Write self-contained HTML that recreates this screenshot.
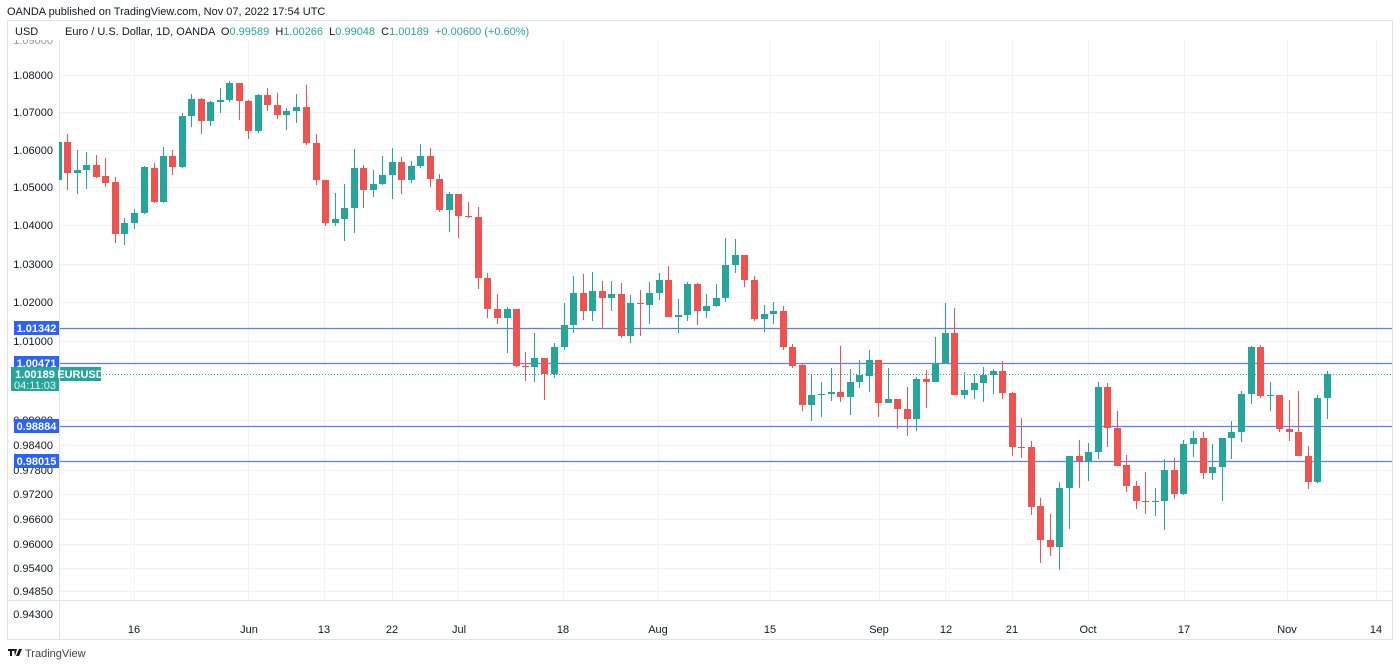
<!DOCTYPE html>
<html><head><meta charset="utf-8"><style>
html,body{margin:0;padding:0;background:#fff;width:1400px;height:667px;overflow:hidden}
svg{display:block}
text{font-family:"Liberation Sans",sans-serif;font-size:11px;white-space:pre}
</style></head><body>
<svg width="1400" height="667" viewBox="0 0 1400 667" xmlns="http://www.w3.org/2000/svg">
<text x="7" y="15" fill="#131722">OANDA published on TradingView.com, Nov 07, 2022 17:54 UTC</text>
<rect x="7.5" y="20.5" width="1385" height="619" fill="none" stroke="#e0e3eb"/>
<line x1="59.5" y1="20" x2="59.5" y2="640" stroke="#e0e3eb"/>
<line x1="7" y1="600.5" x2="1393" y2="600.5" stroke="#e0e3eb"/>
<g stroke="#f0f3fa" stroke-width="1">
<line x1="60" x2="1392" y1="75.5" y2="75.5"/><line x1="60" x2="1392" y1="112.5" y2="112.5"/><line x1="60" x2="1392" y1="150.5" y2="150.5"/><line x1="60" x2="1392" y1="187.5" y2="187.5"/><line x1="60" x2="1392" y1="225.5" y2="225.5"/><line x1="60" x2="1392" y1="264.5" y2="264.5"/><line x1="60" x2="1392" y1="302.5" y2="302.5"/><line x1="60" x2="1392" y1="341.5" y2="341.5"/><line x1="60" x2="1392" y1="420.5" y2="420.5"/><line x1="60" x2="1392" y1="445.5" y2="445.5"/><line x1="60" x2="1392" y1="470.5" y2="470.5"/><line x1="60" x2="1392" y1="494.5" y2="494.5"/><line x1="60" x2="1392" y1="519.5" y2="519.5"/><line x1="60" x2="1392" y1="544.5" y2="544.5"/><line x1="60" x2="1392" y1="568.5" y2="568.5"/><line x1="60" x2="1392" y1="591.5" y2="591.5"/>
<line y1="21" y2="600" x1="134.5" x2="134.5"/><line y1="21" y2="600" x1="248.5" x2="248.5"/><line y1="21" y2="600" x1="324.5" x2="324.5"/><line y1="21" y2="600" x1="392.5" x2="392.5"/><line y1="21" y2="600" x1="458.5" x2="458.5"/><line y1="21" y2="600" x1="563.5" x2="563.5"/><line y1="21" y2="600" x1="658.5" x2="658.5"/><line y1="21" y2="600" x1="770.5" x2="770.5"/><line y1="21" y2="600" x1="879.5" x2="879.5"/><line y1="21" y2="600" x1="945.5" x2="945.5"/><line y1="21" y2="600" x1="1012.5" x2="1012.5"/><line y1="21" y2="600" x1="1088.5" x2="1088.5"/><line y1="21" y2="600" x1="1184.5" x2="1184.5"/><line y1="21" y2="600" x1="1287.5" x2="1287.5"/><line y1="21" y2="600" x1="1376.5" x2="1376.5"/>
</g>
<g text-anchor="end" fill="#131722">
<text x="53" y="44" fill="#999">1.09000</text>
<text x="53" y="79">1.08000</text><text x="53" y="116">1.07000</text><text x="53" y="154">1.06000</text><text x="53" y="191">1.05000</text><text x="53" y="229">1.04000</text><text x="53" y="268">1.03000</text><text x="53" y="306">1.02000</text><text x="53" y="345">1.01000</text><text x="53" y="424">0.99000</text><text x="53" y="449">0.98400</text><text x="53" y="474">0.97800</text><text x="53" y="498">0.97200</text><text x="53" y="523">0.96600</text><text x="53" y="548">0.96000</text><text x="53" y="572">0.95400</text><text x="53" y="595">0.94850</text><text x="53" y="618">0.94300</text>
</g>
<g text-anchor="middle" fill="#131722">
<text x="134" y="633">16</text><text x="249" y="633">Jun</text><text x="324" y="633">13</text><text x="392" y="633">22</text><text x="459" y="633">Jul</text><text x="563" y="633">18</text><text x="658" y="633">Aug</text><text x="770" y="633">15</text><text x="879" y="633">Sep</text><text x="946" y="633">12</text><text x="1012" y="633">21</text><text x="1088" y="633">Oct</text><text x="1184" y="633">17</text><text x="1287" y="633">Nov</text><text x="1376" y="633">14</text>
</g>
<rect x="8" y="21" width="1384" height="19" fill="#fff"/>
<text x="15" y="35" fill="#131722">USD</text>
<text x="65" y="35" fill="#131722">Euro / U.S. Dollar, 1D, OANDA  O<tspan fill="#26a69a">0.99589</tspan>  H<tspan fill="#26a69a">1.00266</tspan>  L<tspan fill="#26a69a">0.99048</tspan>  C<tspan fill="#26a69a">1.00189</tspan>  <tspan fill="#26a69a">+0.00600 (+0.60%)</tspan></text>
<g stroke="#5b7cf8" stroke-width="1.3">
<line x1="60" x2="1392" y1="328.5" y2="328.5"/><line x1="60" x2="1392" y1="363.5" y2="363.5"/><line x1="60" x2="1392" y1="426.5" y2="426.5"/><line x1="60" x2="1392" y1="461.5" y2="461.5"/>
</g>
<line x1="100" x2="1392" y1="374.5" y2="374.5" stroke="#26a69a" stroke-dasharray="1,2"/>
<svg x="59" y="40" width="1334" height="560" viewBox="59 40 1334 560" overflow="hidden">
<g id="c"></g>
</svg>
<g>
<rect x="14" y="321" width="45" height="14" fill="#2962ff"/><text x="36.5" y="332" text-anchor="middle" fill="#ffffff" font-weight="bold">1.01342</text>
<rect x="14" y="356" width="45" height="14" fill="#2962ff"/><text x="36.5" y="367" text-anchor="middle" fill="#ffffff" font-weight="bold">1.00471</text>
<rect x="11" y="367" width="48" height="24" fill="#26a69a"/><text x="35" y="378" text-anchor="middle" fill="#ffffff" font-weight="bold">1.00189</text><text x="35" y="389" text-anchor="middle" fill="#e6f5f3">04:11:03</text>
<rect x="60" y="367" width="41" height="14" fill="#26a69a"/><text x="80.5" y="378" text-anchor="middle" fill="#ffffff" font-weight="bold">EURUSD</text>
<rect x="14" y="419" width="45" height="14" fill="#2962ff"/><text x="36.5" y="430" text-anchor="middle" fill="#ffffff" font-weight="bold">0.98884</text>
<rect x="14" y="454" width="45" height="14" fill="#2962ff"/><text x="36.5" y="465" text-anchor="middle" fill="#ffffff" font-weight="bold">0.98015</text>
</g>
<g fill="#131722"><rect x="8" y="649" width="6" height="2"/><rect x="10" y="649" width="2" height="7"/><polygon points="14,649 17,649 15,656"/><polygon points="16,656 19,649 22,649 19,656"/></g>
<text x="25" y="657" font-size="12" fill="#444">TradingView</text>
</svg>
<script>
var d=`58 142 180 137 182 g
67 142 173 134 190 r
77 170 173 150 194 g
86 165 170 152 189 g
96 165 177 155 178 r
105 176 183 158 187 r
115 182 234 177 243 r
124 223 234 218 245 g
134 213 223 209 229 g
144 167 213 166 214 g
154 168 202 163 203 r
163 156 202 147 203 g
172 156 167 150 175 r
182 116 167 113 168 g
191 99 116 94 127 g
201 99 121 98 134 r
210 102 121 101 126 g
220 100 102 88 113 g
229 83 100 81 102 g
239 83 101 83 120 r
248 101 131 100 139 r
258 95 131 94 133 g
267 95 105 88 111 r
277 105 115 93 119 r
286 111 115 108 130 g
296 107 111 94 123 g
306 107 143 85 145 r
316 143 180 134 185 r
325 180 223 180 226 r
335 219 223 193 226 g
344 208 219 184 241 g
354 168 208 149 233 g
363 168 190 165 208 r
373 184 190 170 197 g
382 175 184 156 185 g
392 162 175 148 199 g
401 162 180 157 194 r
411 166 180 161 183 g
420 156 166 144 168 g
430 156 179 148 187 r
439 179 210 174 212 r
449 194 210 192 232 g
458 194 216 194 238 r
468 216 217 202 218 r
478 217 278 207 289 r
487 278 309 273 318 r
497 309 318 294 324 r
507 309 318 307 353 g
516 309 366 309 367 r
525 366 367 352 381 r
534 358 367 333 382 g
544 358 374 358 400 r
554 347 374 343 378 g
564 325 347 303 350 g
573 293 325 276 333 g
583 293 311 274 320 r
592 291 311 272 321 g
602 291 298 281 329 r
611 294 298 281 311 g
621 294 336 283 338 r
630 303 336 295 343 g
640 303 304 290 336 r
649 293 305 282 324 g
659 280 293 273 300 g
668 280 317 266 317 r
678 315 317 299 333 g
687 284 315 282 321 g
697 284 311 283 325 r
706 306 311 294 318 g
716 298 306 284 307 g
725 265 298 238 302 g
735 255 265 239 273 g
744 255 280 255 287 r
754 280 319 276 321 r
764 314 319 305 332 g
773 311 314 302 324 g
783 311 347 306 350 r
792 347 366 344 368 r
802 365 405 363 411 r
811 395 405 374 421 g
821 394 395 382 417 g
831 392 394 368 401 g
840 392 397 346 402 r
850 382 397 369 415 g
859 375 382 360 388 g
869 360 376 350 392 g
878 360 403 360 417 r
888 399 403 368 403 g
897 399 409 399 429 r
907 409 419 387 436 r
916 379 419 377 431 g
926 379 382 370 408 r
935 363 382 337 382 g
945 333 363 303 363 g
954 333 395 308 395 r
964 390 395 372 399 g
974 383 390 374 399 g
983 375 383 367 402 g
993 371 375 369 394 g
1002 371 393 361 399 r
1012 393 447 392 456 r
1021 447 448 418 458 r
1031 447 507 441 515 r
1040 506 540 498 563 r
1050 540 547 514 556 r
1059 488 547 482 570 g
1069 456 488 456 529 g
1079 456 461 440 488 r
1088 452 461 443 481 g
1098 387 452 382 459 g
1107 387 428 383 447 r
1117 428 466 411 466 r
1126 465 486 455 492 r
1136 486 501 481 509 r
1145 501 502 472 514 r
1155 501 502 488 516 g
1164 470 501 459 530 g
1174 470 494 458 499 r
1183 444 494 440 495 g
1193 438 444 431 457 g
1203 438 473 432 479 r
1212 467 473 444 480 g
1222 438 467 438 501 g
1231 432 438 421 459 g
1241 394 432 391 442 g
1251 347 394 346 404 g
1260 347 396 345 398 r
1270 395 396 382 411 g
1279 395 429 395 432 r
1289 429 432 400 441 r
1298 432 456 391 456 r
1308 456 482 446 489 r
1317 398 482 395 483 g
1327 374 398 371 419 g`;
var s='';d.split('\n').forEach(function(l){var a=l.trim().split(/\s+/);var x=+a[0],t=+a[1],b=+a[2],h=+a[3],lo=+a[4],c=a[5]=='g'?'#26a69a':'#ef5350';
s+='<line x1="'+(x+.5)+'" x2="'+(x+.5)+'" y1="'+h+'" y2="'+lo+'" stroke="'+c+'"/>';
s+='<rect x="'+(x-3)+'" y="'+t+'" width="7" height="'+Math.max(1,b-t)+'" fill="'+c+'"/>';});
document.getElementById('c').innerHTML=s;
</script>
</body></html>
